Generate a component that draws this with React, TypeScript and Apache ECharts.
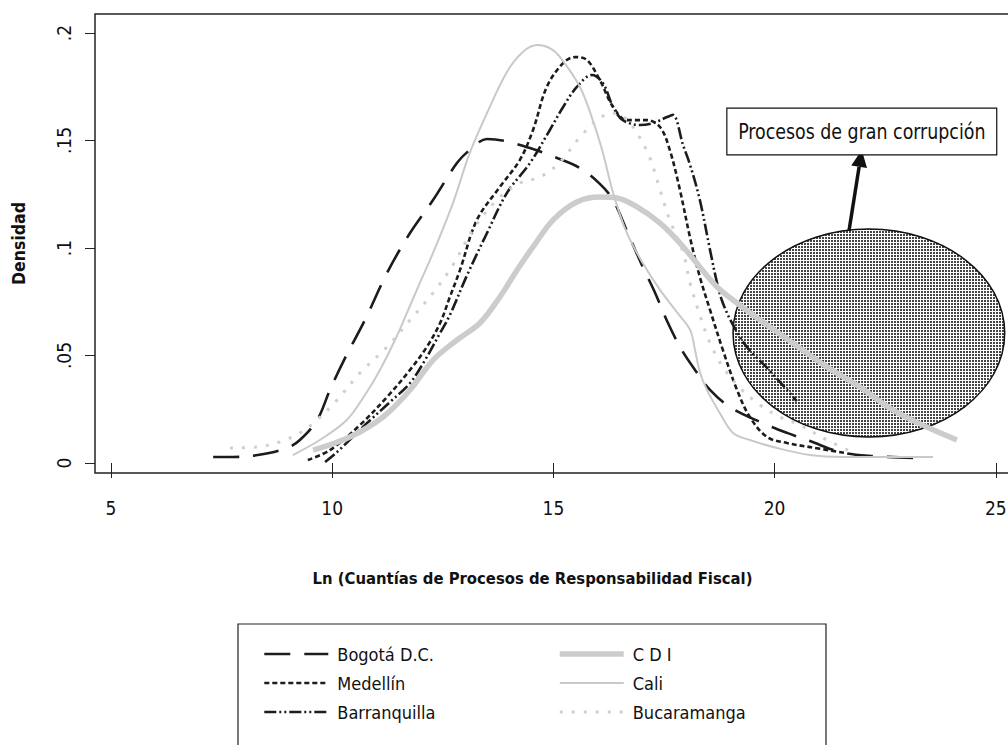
import React, { useEffect, useRef } from "react";
import * as echarts from "echarts";

const FONT = "'Liberation Sans Narrow', 'DejaVu Sans Condensed', 'Arial Narrow', sans-serif";

// Axis ranges and ticks
const X_MIN = 4.64;
const X_MAX = 25.41;
const Y_MIN = -0.00465;
const Y_MAX = 0.20884;
const xTicks = [5, 10, 15, 20, 25];
const yTicks = [0, 0.05, 0.1, 0.15, 0.2];
const yTickLabels = ["0", ".05", ".1", ".15", ".2"];

// Kernel density estimates, [ln(cuantía), densidad]
const bogota = [
  [7.31, 0.0028], [7.76, 0.0028], [8.32, 0.0037], [8.98, 0.007], [9.27, 0.0107],
  [9.66, 0.02], [9.95, 0.034], [10.29, 0.0488], [10.74, 0.0665], [11.24, 0.0884],
  [11.76, 0.107], [12.28, 0.1223], [12.82, 0.1395], [13.11, 0.1456], [13.5, 0.1507],
  [13.9, 0.1498], [14.47, 0.1465], [15.03, 0.1423], [15.6, 0.1372], [16.05, 0.1298],
  [16.35, 0.1223], [16.68, 0.107], [17.02, 0.0912], [17.29, 0.0795], [17.59, 0.0651],
  [17.9, 0.0526], [18.2, 0.0433], [18.54, 0.034], [18.99, 0.026], [19.67, 0.0191],
  [20.28, 0.014], [20.8, 0.0102], [21.48, 0.0051], [22.15, 0.0033], [23.28, 0.0023],
];

const medellin = [
  [9.45, 0.0014], [9.95, 0.006], [10.63, 0.0177], [11.24, 0.0307], [11.76, 0.0433],
  [12.14, 0.054], [12.44, 0.0651], [12.66, 0.0772], [12.89, 0.0898], [13.27, 0.113],
  [13.79, 0.1284], [14.24, 0.1409], [14.54, 0.1549], [14.85, 0.1749], [15.22, 0.186],
  [15.49, 0.1888], [15.76, 0.1874], [16.05, 0.1781], [16.35, 0.1656], [16.66, 0.1595],
  [17.11, 0.1595], [17.41, 0.1563], [17.63, 0.1456], [17.86, 0.127], [18.09, 0.1047],
  [18.31, 0.0865], [18.54, 0.0712], [18.83, 0.0526], [19.15, 0.034], [19.44, 0.0214],
  [19.83, 0.0121], [20.28, 0.0093], [20.8, 0.0074], [21.59, 0.0047],
];

const barranquilla = [
  [9.84, 0.0005], [10.11, 0.0051], [10.79, 0.0186], [11.31, 0.0284], [11.76, 0.0372],
  [12.1, 0.0479], [12.44, 0.0605], [12.66, 0.0688], [13.05, 0.0874], [13.5, 0.107],
  [13.95, 0.1256], [14.47, 0.1395], [14.92, 0.1549], [15.22, 0.1656], [15.53, 0.1749],
  [15.87, 0.1805], [16.12, 0.1767], [16.35, 0.1656], [16.57, 0.1595], [16.96, 0.1572],
  [17.25, 0.1581], [17.57, 0.1609], [17.7, 0.1619], [17.93, 0.1479], [18.09, 0.1386],
  [18.31, 0.1223], [18.54, 0.0991], [18.7, 0.0837], [18.83, 0.0744], [19.06, 0.0642],
  [19.37, 0.054], [19.83, 0.0442], [20.28, 0.034], [20.5, 0.0288],
];

const cdi = [
  [9.57, 0.006], [10.4, 0.0121], [11.15, 0.0214], [11.76, 0.034], [12.28, 0.0479],
  [12.82, 0.0572], [13.34, 0.0651], [13.79, 0.0772], [14.18, 0.0898], [14.54, 0.1005],
  [14.99, 0.113], [15.53, 0.1214], [16.05, 0.1237], [16.44, 0.1233], [16.89, 0.1191],
  [17.41, 0.1116], [17.86, 0.1023], [18.31, 0.0912], [18.7, 0.0819], [19.15, 0.0744],
  [19.67, 0.0665], [20.41, 0.0558], [21.18, 0.0447], [21.93, 0.0353], [22.67, 0.0247],
  [23.44, 0.0167], [24.12, 0.0107],
];

const cali = [
  [9.11, 0.0037], [9.72, 0.0107], [10.33, 0.02], [10.74, 0.0316], [11.08, 0.0433],
  [11.42, 0.0572], [11.69, 0.0698], [11.98, 0.0837], [12.28, 0.0977], [12.73, 0.1209],
  [13.11, 0.1442], [13.5, 0.1628], [13.95, 0.1819], [14.31, 0.1912], [14.63, 0.1944],
  [14.92, 0.193], [15.15, 0.1888], [15.6, 0.1749], [15.89, 0.1595], [16.12, 0.1442],
  [16.35, 0.1256], [16.66, 0.107], [17.02, 0.093], [17.41, 0.0805], [17.79, 0.0702],
  [18.09, 0.0619], [18.2, 0.0526], [18.31, 0.0423], [18.47, 0.034], [18.76, 0.0233],
  [19.06, 0.014], [19.44, 0.0107], [20.05, 0.007], [20.8, 0.0037], [21.54, 0.0028],
  [23.58, 0.0028],
];

const bucaramanga = [
  [7.69, 0.007], [8.3, 0.0074], [8.82, 0.0098], [9.27, 0.014], [9.66, 0.02],
  [10.11, 0.0293], [10.63, 0.0419], [11.24, 0.054], [11.76, 0.0665], [12.28, 0.0791],
  [12.73, 0.0921], [13.18, 0.1084], [13.72, 0.1223], [14.24, 0.1302], [14.7, 0.133],
  [15.15, 0.14], [15.6, 0.1516], [16.05, 0.1605], [16.35, 0.1628], [16.62, 0.1605],
  [16.89, 0.1535], [17.18, 0.1419], [17.41, 0.127], [17.63, 0.113], [17.93, 0.0981],
  [18.09, 0.0837], [18.31, 0.0688], [18.54, 0.0558], [18.83, 0.0447], [19.22, 0.0349],
  [19.67, 0.027], [20.12, 0.0214], [20.57, 0.0177], [21.18, 0.0107], [21.7, 0.0056],
];

// Annotation placed in data space: ellipse extent, label box, arrow
const ellipseBox = { x0: 19.06, x1: 25.2, y0: 0.0121, y1: 0.1088 };
const labelBox = { x0: 18.92, x1: 25.02, y0: 0.1433, y1: 0.1651 };
const arrowFrom = [21.68, 0.1079];
const arrowTo = [21.97, 0.1456];
const annotationText = "Procesos de gran corrupción";

const BLACK = "#1c1c1c";
const GRAY = "#cccccc";

function makePattern(): string {
  const c = document.createElement("canvas");
  c.width = 3;
  c.height = 3;
  const ctx = c.getContext("2d")!;
  ctx.fillStyle = "#ffffff";
  ctx.fillRect(0, 0, 3, 3);
  ctx.fillStyle = "#444444";
  ctx.fillRect(0, 0, 2, 2);
  return c.toDataURL();
}

export default function App() {
  const ref = useRef<HTMLDivElement>(null);

  useEffect(() => {
    document.body.style.margin = "0";
    const chart = echarts.init(ref.current!, null, { renderer: "svg" });

    const line = (name: string, data: number[][], lineStyle: any) => ({
      name,
      type: "line",
      data,
      symbol: "none",
      smooth: 0.35,
      lineStyle,
      itemStyle: { color: lineStyle.color },
      emphasis: { disabled: true },
    });

    const legendCommon = {
      orient: "vertical",
      top: 640,
      itemWidth: 64,
      itemHeight: 14,
      itemGap: 11,
      selectedMode: false,
      itemStyle: { opacity: 0 },
      lineStyle: { width: "inherit" },
      textStyle: { fontSize: 18, color: "#111", fontFamily: FONT, padding: [0, 0, 0, 4] },
    };

    chart.setOption({
      animation: false,
      textStyle: { fontFamily: FONT },
      grid: {
        left: 95,
        top: 14,
        width: 919,
        height: 459,
        show: true,
        borderColor: "#222",
        borderWidth: 1.5,
        backgroundColor: "transparent",
      },
      xAxis: {
        type: "value",
        min: X_MIN,
        max: X_MAX,
        offset: 5,
        axisLine: { show: false },
        splitLine: { show: false },
        axisTick: { show: true, customValues: xTicks, length: 15, lineStyle: { color: "#222", width: 1 } },
        axisLabel: { customValues: xTicks, margin: 20, fontSize: 19, color: "#111", fontFamily: FONT },
        name: "Ln (Cuantías de Procesos de Responsabilidad Fiscal)",
        nameLocation: "middle",
        nameGap: 92,
        nameTextStyle: {
          fontSize: 16.5,
          fontWeight: "bold",
          color: "#111",
          fontFamily: FONT,
          padding: [0, 44, 0, 0],
        },
      },
      yAxis: {
        type: "value",
        min: Y_MIN,
        max: Y_MAX,
        axisLine: { show: false },
        splitLine: { show: false },
        axisTick: { show: true, customValues: yTicks, length: 10, lineStyle: { color: "#222", width: 1 } },
        axisLabel: {
          customValues: yTicks,
          rotate: 90,
          margin: 22,
          fontSize: 19,
          color: "#111",
          fontFamily: FONT,
          formatter: (v: number) => {
            const i = yTicks.findIndex((t) => Math.abs(t - v) < 1e-9);
            return i >= 0 ? yTickLabels[i] : "";
          },
        },
        name: "Densidad",
        nameLocation: "middle",
        nameRotate: 90,
        nameGap: 67,
        nameTextStyle: { fontSize: 17.5, fontWeight: "bold", color: "#111", fontFamily: FONT },
      },
      legend: [
        { ...legendCommon, left: 258, data: ["Bogotá D.C.", "Medellín", "Barranquilla"] },
        { ...legendCommon, left: 552, data: ["C D I", "Cali", "Bucaramanga"] },
      ],
      series: [
        line("Bogotá D.C.", bogota, { color: BLACK, width: 2.6, type: [26, 14] }),
        line("Medellín", medellin, { color: BLACK, width: 2.6, type: [5, 3] }),
        line("Barranquilla", barranquilla, { color: BLACK, width: 2.6, type: [12, 3, 2, 3, 2, 3] }),
        line("C D I", cdi, { color: GRAY, width: 5.5, type: "solid" }),
        line("Cali", cali, { color: "#c9c9c9", width: 2, type: "solid" }),
        line("Bucaramanga", bucaramanga, { color: "#cfcfcf", width: 3, type: [3, 9] }),
      ],
    });

    const px = (x: number, y: number) => chart.convertToPixel({ gridIndex: 0 }, [x, y]) as number[];
    const e0 = px(ellipseBox.x0, ellipseBox.y1);
    const e1 = px(ellipseBox.x1, ellipseBox.y0);
    const b0 = px(labelBox.x0, labelBox.y1);
    const b1 = px(labelBox.x1, labelBox.y0);
    const a0 = px(arrowFrom[0], arrowFrom[1]);
    const a1 = px(arrowTo[0], arrowTo[1]);
    const dx = a1[0] - a0[0];
    const dy = a1[1] - a0[1];
    const len = Math.hypot(dx, dy);
    const ux = dx / len;
    const uy = dy / len;
    const headLen = 17;
    const headHalf = 8;
    const hb = [a1[0] - ux * headLen, a1[1] - uy * headLen];

    chart.setOption({
      graphic: [
        {
          type: "ellipse",
          z: 1,
          shape: {
            cx: (e0[0] + e1[0]) / 2,
            cy: (e0[1] + e1[1]) / 2,
            rx: (e1[0] - e0[0]) / 2,
            ry: (e1[1] - e0[1]) / 2,
          },
          style: {
            fill: { image: makePattern(), repeat: "repeat", imageWidth: 3, imageHeight: 3 },
            stroke: "#111",
            lineWidth: 1.5,
          },
        },
        {
          type: "line",
          z: 10,
          shape: { x1: a0[0], y1: a0[1], x2: hb[0], y2: hb[1] },
          style: { stroke: "#111", lineWidth: 3.5 },
        },
        {
          type: "polygon",
          z: 10,
          shape: {
            points: [
              [a1[0], a1[1]],
              [hb[0] - uy * headHalf, hb[1] + ux * headHalf],
              [hb[0] + uy * headHalf, hb[1] - ux * headHalf],
            ],
          },
          style: { fill: "#111" },
        },
        {
          type: "rect",
          z: 10,
          shape: { x: b0[0], y: b0[1], width: b1[0] - b0[0], height: b1[1] - b0[1] },
          style: { fill: "#fff", stroke: "#111", lineWidth: 1.2 },
        },
        {
          type: "text",
          z: 11,
          x: (b0[0] + b1[0]) / 2,
          y: (b0[1] + b1[1]) / 2,
          scaleX: 0.88,
          style: {
            text: annotationText,
            fontSize: 22,
            fontFamily: FONT,
            fill: "#111",
            align: "center",
            verticalAlign: "middle",
          },
        },
        {
          type: "rect",
          z: 0,
          shape: { x: 238, y: 624, width: 588, height: 160 },
          style: { fill: "none", stroke: "#222", lineWidth: 1.2 },
        },
      ],
    });

    return () => chart.dispose();
  }, []);

  return (
    <div style={{ position: "absolute", left: 0, top: 0, width: 1008, height: 745, overflow: "hidden", background: "#fff" }}>
      <div ref={ref} style={{ width: 1030, height: 745 }} />
    </div>
  );
}
